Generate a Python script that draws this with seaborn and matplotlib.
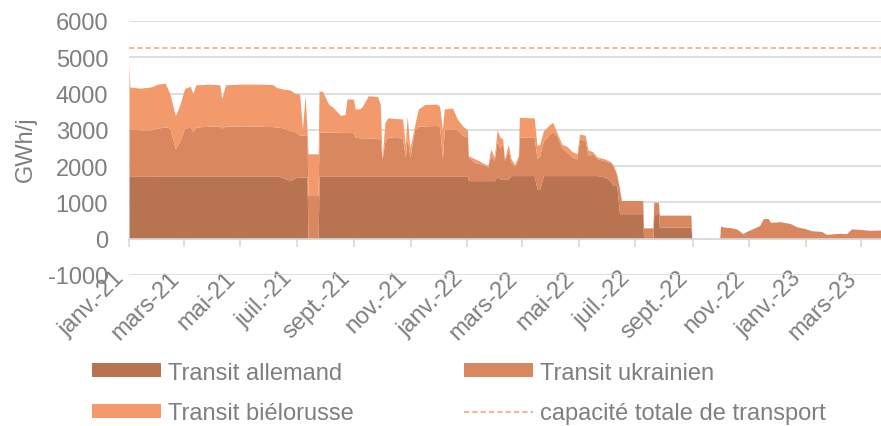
import pandas as pd
import numpy as np
import seaborn as sns
import matplotlib.pyplot as plt

# Data (GWh/j)

dates = [
    "2021-01-01", "2021-01-02", "2021-01-13", "2021-01-24", "2021-02-01", "2021-02-09",
    "2021-02-14", "2021-02-20", "2021-02-25", "2021-03-02", "2021-03-08", "2021-03-11",
    "2021-03-14", "2021-03-29", "2021-04-09", "2021-04-11", "2021-04-15", "2021-05-01",
    "2021-05-22", "2021-06-05", "2021-06-09", "2021-06-15", "2021-06-24", "2021-06-29",
    "2021-07-04", "2021-07-07", "2021-07-10", "2021-07-12", "2021-07-13", "2021-07-24",
    "2021-07-25", "2021-07-29", "2021-08-04", "2021-08-09", "2021-08-17", "2021-08-22",
    "2021-08-24", "2021-08-31", "2021-09-02", "2021-09-07", "2021-09-10", "2021-09-16",
    "2021-09-26", "2021-09-29", "2021-10-01", "2021-10-04", "2021-10-07", "2021-10-23",
    "2021-10-26", "2021-10-28", "2021-10-31", "2021-11-05", "2021-11-09", "2021-11-16",
    "2021-11-29", "2021-12-02", "2021-12-05", "2021-12-07", "2021-12-16", "2021-12-21",
    "2021-12-27", "2022-01-01", "2022-01-02", "2022-01-09", "2022-01-17", "2022-01-23",
    "2022-01-26", "2022-01-30", "2022-02-02", "2022-02-05", "2022-02-08", "2022-02-10",
    "2022-02-14", "2022-02-17", "2022-02-21", "2022-02-25", "2022-02-26", "2022-03-14",
    "2022-03-17", "2022-03-20", "2022-03-24", "2022-03-31", "2022-04-03", "2022-04-07",
    "2022-04-13", "2022-04-18", "2022-04-24", "2022-04-29", "2022-05-02", "2022-05-08",
    "2022-05-11", "2022-05-16", "2022-05-21", "2022-05-29", "2022-06-04", "2022-06-07",
    "2022-06-11", "2022-06-14", "2022-06-16", "2022-07-09", "2022-07-10", "2022-07-20",
    "2022-07-21", "2022-07-26", "2022-07-27", "2022-08-30", "2022-08-31", "2022-09-30",
    "2022-10-01", "2022-10-05", "2022-10-13", "2022-10-19", "2022-10-25", "2022-10-29",
    "2022-11-05", "2022-11-12", "2022-11-16", "2022-11-21", "2022-11-24", "2022-12-04",
    "2022-12-15", "2022-12-22", "2022-12-31", "2023-01-07", "2023-01-18", "2023-01-23",
    "2023-02-07", "2023-02-14", "2023-02-19", "2023-02-28", "2023-03-11", "2023-03-23",
]

allemand = [
    1720, 1720, 1720, 1720, 1730, 1730,
    1730, 1730, 1730, 1730, 1730, 1730,
    1730, 1730, 1730, 1730, 1730, 1730,
    1730, 1730, 1730, 1700, 1600, 1680,
    1700, 1700, 1700, 1700, 0, 0,
    1720, 1720, 1720, 1720, 1720, 1720,
    1720, 1720, 1720, 1720, 1720, 1720,
    1720, 1720, 1720, 1720, 1720, 1720,
    1720, 1720, 1720, 1720, 1720, 1720,
    1720, 1720, 1720, 1720, 1720, 1720,
    1720, 1720, 1600, 1600, 1600, 1600,
    1600, 1600, 1720, 1650, 1650, 1650,
    1650, 1740, 1740, 1740, 1740, 1740,
    1375, 1375, 1740, 1740, 1740, 1740,
    1740, 1740, 1740, 1740, 1740, 1740,
    1740, 1740, 1740, 1700, 1600, 1470,
    1470, 690, 690, 690, 0, 0,
    690, 690, 320, 320, 0, 0,
    0, 0, 0, 0, 0, 0,
    0, 0, 0, 0, 0, 0,
    0, 0, 0, 0, 0, 0,
    0, 0, 0, 0, 0, 0,
]

ukrainien = [
    1305, 1305, 1280, 1280, 1320, 1350,
    1320, 745, 970, 1320, 1340, 1220,
    1350, 1370, 1370, 1320, 1370, 1380,
    1370, 1360, 1350, 1360, 1380, 1270,
    1150, 1150, 1150, 1150, 1190, 1190,
    1210, 1220, 1220, 1220, 1210, 1210,
    1210, 1200, 1080, 1060, 1060, 1060,
    1040, 1030, 480, 980, 1080, 1060,
    530, 1080, 530, 1280, 1380, 1390,
    1400, 1380, 480, 1300, 1310, 1280,
    1130, 1080, 650, 500, 450, 380,
    700, 550, 980, 850, 1000, 500,
    800, 360, 260, 460, 1060, 1050,
    825, 925, 960, 1160, 1210, 1110,
    760, 660, 510, 460, 1010, 960,
    560, 610, 460, 450, 500, 530,
    280, 685, 365, 365, 300, 300,
    320, 310, 330, 330, 0, 0,
    350, 320, 300, 260, 140, 200,
    280, 360, 550, 560, 450, 470,
    420, 330, 280, 220, 200, 120,
    150, 140, 270, 260, 230, 240,
]

bielorusse = [
    1775, 1155, 1150, 1180, 1210, 1210,
    950, 915, 1000, 1090, 1130, 1050,
    1160, 1160, 1140, 800, 1140, 1150,
    1160, 1160, 1090, 1070, 1120, 1050,
    1140, 175, 1110, 150, 1150, 1150,
    1150, 1110, 780, 680, 470, 490,
    920, 930, 775, 800, 880, 1160,
    1160, 950, 0, 500, 530, 520,
    320, 590, 250, 120, 475, 590,
    590, 550, 800, 555, 570, 300,
    250, 200, 40, 100, 50, 35,
    175, 100, 300, 300, 100, 50,
    150, 100, 50, 100, 545, 540,
    370, 300, 280, 250, 260, 100,
    100, 150, 150, 140, 140, 150,
    150, 50, 50, 50, 30, 50,
    50, 0, 0, 0, 0, 0,
    0, 0, 0, 0, 0, 0,
    0, 0, 0, 0, 0, 0,
    0, 0, 0, 0, 0, 0,
    0, 0, 0, 0, 0, 0,
    0, 0, 0, 0, 0, 0,
]

capacity_dates = ["2021-01-01", "2023-03-23"]
capacity = [5250, 5250]

tick_dates = [
    "2021-01-01", "2021-03-01", "2021-05-01", "2021-07-01", "2021-09-01", "2021-11-01",
    "2022-01-01", "2022-03-01", "2022-05-01", "2022-07-01", "2022-09-01", "2022-11-01",
    "2023-01-01", "2023-03-01",
]
tick_labels = [
    "janv.-21", "mars-21", "mai-21", "juil.-21", "sept.-21", "nov.-21",
    "janv.-22", "mars-22", "mai-22", "juil.-22", "sept.-22", "nov.-22",
    "janv.-23", "mars-23",
]

series_labels = ["Transit allemand", "Transit ukrainien", "Transit biélorusse"]
capacity_label = "capacité totale de transport"
colors = ["#B87350", "#D8875E", "#F29A6C"]
cap_color = "#F8B596"
grey = "#7F7F7F"
grid_grey = "#D9D9D9"

# Build dataframe

df = pd.DataFrame({
    "date": pd.to_datetime(dates),
    "allemand": allemand,
    "ukrainien": ukrainien,
    "bielorusse": bielorusse,
})

sns.set_theme(style="white")
plt.rcParams["font.family"] = ["Liberation Sans", "DejaVu Sans"]
plt.rcParams["axes.unicode_minus"] = False

fig = plt.figure(figsize=(8.81, 4.27), dpi=100)
ax = fig.add_axes([129 / 881, 1 - 276 / 427, 752 / 881, 254 / 427])

# Stacked areas

ax.stackplot(df["date"], df["allemand"], df["ukrainien"], df["bielorusse"],
             colors=colors, labels=series_labels, linewidth=0)

# Capacity line

sns.lineplot(x=pd.to_datetime(capacity_dates), y=capacity, ax=ax, color=cap_color,
             linestyle=(0, (2.5, 1.5)), linewidth=1.5, label=capacity_label)

# Axes styling

for side in ["top", "right", "left"]:
    ax.spines[side].set_visible(False)
ax.spines["bottom"].set_position(("data", 0))
ax.spines["bottom"].set_color(grid_grey)
ax.spines["bottom"].set_linewidth(1.2)

ax.set_ylim(-1000, 6000)
ax.set_yticks(range(-1000, 7000, 1000))
ax.set_xlim(pd.Timestamp("2021-01-01"), pd.Timestamp("2023-03-23"))
ax.set_xticks(pd.to_datetime(tick_dates))
ax.set_xticklabels(tick_labels)

ax.grid(axis="y", color=grid_grey, linewidth=1.2)
ax.grid(axis="x", visible=False)
ax.set_axisbelow(True)

ax.tick_params(axis="x", direction="out", length=6, width=1.2, color=grid_grey,
               pad=14, labelsize=17, labelcolor=grey, bottom=True)
ax.tick_params(axis="y", length=0, pad=15, labelsize=17, labelcolor=grey)
plt.setp(ax.get_xticklabels(), rotation=45, ha="right", rotation_mode="default")
ax.set_ylabel("GWh/j", fontsize=17, color=grey, labelpad=8)
ax.set_xlabel("")

# Legend below the chart

handles, labels = ax.get_legend_handles_labels()
if ax.get_legend() is not None:
    ax.get_legend().remove()
lookup = dict(zip(labels, handles))
order = [series_labels[0], series_labels[2], series_labels[1], capacity_label]
fig.legend([lookup[k] for k in order], order, ncol=2, loc="center",
           bbox_to_anchor=(459 / 881, 1 - 394 / 427), frameon=False, fontsize=17,
           labelcolor=grey, handlelength=2.9, handleheight=0.5, handletextpad=0.3,
           columnspacing=4.7, labelspacing=0.8)

fig.savefig("out.png", dpi=100)
